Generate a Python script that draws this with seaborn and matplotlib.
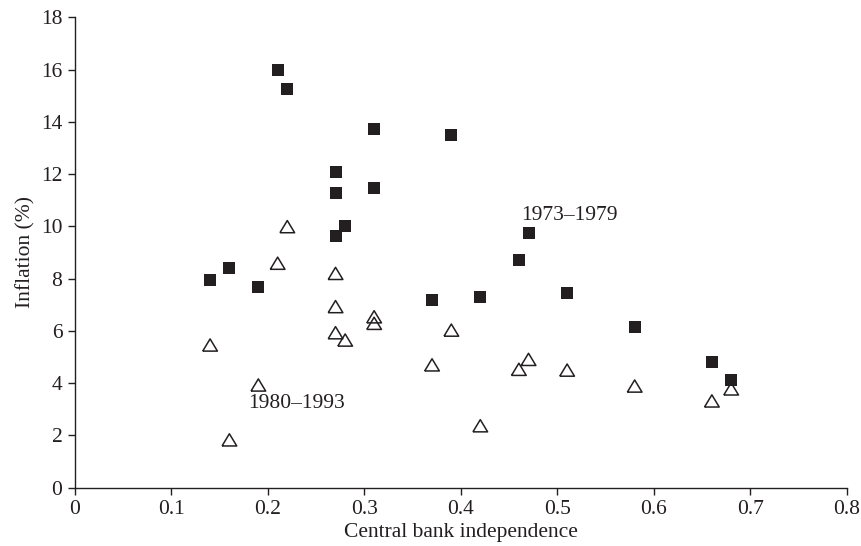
import matplotlib
matplotlib.use("Agg")
import matplotlib.pyplot as plt
import seaborn as sns
import pandas as pd

# Central bank independence index per country (same countries in both periods)
cbi = [0.14, 0.16, 0.19, 0.21, 0.22, 0.27, 0.27, 0.27, 0.28, 0.31,
       0.31, 0.37, 0.39, 0.42, 0.46, 0.47, 0.51, 0.58, 0.66, 0.68]

# Average inflation (%) 1973-1979
infl_1973_79 = [7.95, 8.42, 7.69, 15.98, 15.26, 12.08, 11.28, 9.64, 10.03, 13.73,
                11.48, 7.18, 13.5, 7.31, 8.71, 9.76, 7.45, 6.16, 4.81, 4.12]

# Average inflation (%) 1980-1993
infl_1980_93 = [5.46, 1.83, 3.93, 8.59, 9.99, 8.2, 6.93, 5.93, 5.65, 6.54,
                6.29, 4.7, 6.03, 2.37, 4.53, 4.91, 4.5, 3.89, 3.32, 3.78]

periods = ["1973\u20131979", "1980\u20131993"]
x_ticks = [0, 0.1, 0.2, 0.3, 0.4, 0.5, 0.6, 0.7, 0.8]
y_ticks = [0, 2, 4, 6, 8, 10, 12, 14, 16, 18]

df = pd.DataFrame({
    "cbi": cbi * 2,
    "inflation": infl_1973_79 + infl_1980_93,
    "period": [periods[0]] * len(cbi) + [periods[1]] * len(cbi),
})

sns.set_style("ticks")
plt.rcParams["font.family"] = ["Liberation Serif", "DejaVu Serif"]

ink = "#231f20"
fig = plt.figure(figsize=(8.61, 5.46), dpi=100)
ax = fig.add_axes([0.0871, 0.1068, 0.8966, 0.8615])

# open triangle, a little wider than tall
tri = [(-1.0, -0.83), (1.0, -0.83), (0.0, 0.83), (-1.0, -0.83)]

sns.scatterplot(data=df[df.period == periods[0]], x="cbi", y="inflation",
                marker="s", s=66, color=ink, edgecolor=ink, linewidth=0,
                ax=ax, legend=False, zorder=3)
sns.scatterplot(data=df[df.period == periods[1]], x="cbi", y="inflation",
                marker=tri, s=112, facecolor="none", edgecolor=ink,
                linewidth=1.1, ax=ax, legend=False, zorder=3)

ax.text(0.4625, 10.4, periods[0], ha="left", va="center", fontsize=15.5, color=ink)
ax.text(0.179, 3.24, periods[1], ha="left", va="center", fontsize=15.5, color=ink)

ax.set_xlim(0, 0.8)
ax.set_ylim(0, 18)
ax.set_xticks(x_ticks)
ax.set_xticklabels(["0" if t == 0 else f"{t:g}" for t in x_ticks])
ax.set_yticks(y_ticks)
ax.set_xlabel("Central bank independence", fontsize=15.5, color=ink, labelpad=3)
ax.set_ylabel("Inflation (%)", fontsize=15.5, color=ink, labelpad=4)
ax.tick_params(axis="both", labelsize=15.5, colors=ink, length=5, width=1.0, pad=4)
for side in ["left", "bottom"]:
    ax.spines[side].set_color(ink)
    ax.spines[side].set_linewidth(1.0)
sns.despine(ax=ax)

fig.savefig("out.png", dpi=100)
